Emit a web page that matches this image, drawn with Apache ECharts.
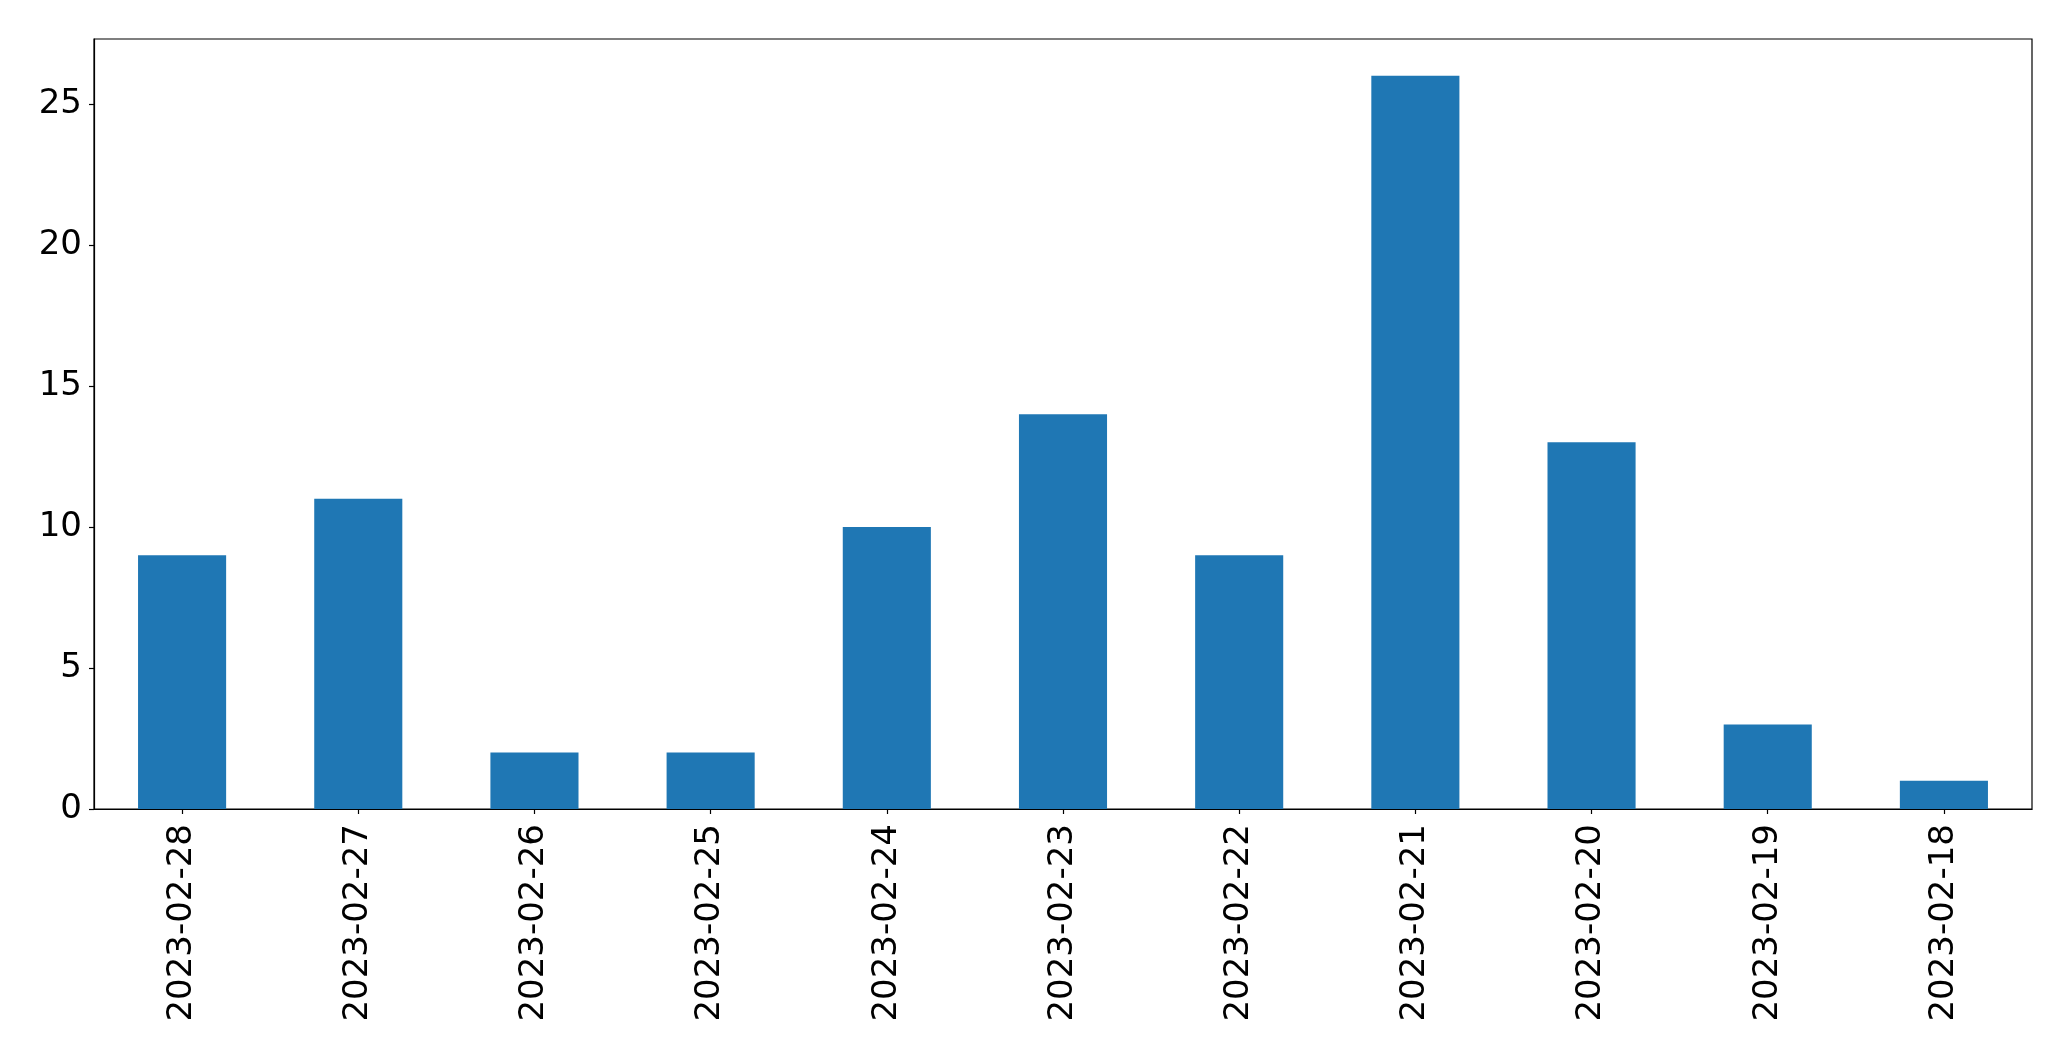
<!DOCTYPE html>
<html>
<head>
<meta charset="utf-8">
<style>html,body{margin:0;padding:0;background:#fff;}#c{width:2071px;height:1061px;}</style>
<script src="https://cdn.jsdelivr.net/npm/echarts@6/dist/echarts.min.js"></script>
</head>
<body>
<div id="c"></div>
<script>
const categories = ["2023-02-28","2023-02-27","2023-02-26","2023-02-25","2023-02-24","2023-02-23","2023-02-22","2023-02-21","2023-02-20","2023-02-19","2023-02-18"];
const values = [9, 11, 2, 2, 10, 14, 9, 26, 13, 3, 1];
const yTicks = [0, 5, 10, 15, 20, 25];

const chart = echarts.init(document.getElementById('c'), null, {renderer: 'canvas'});
const font = 'DejaVu Sans';
chart.setOption({
  animation: false,
  backgroundColor: '#ffffff',
  grid: {left: 94, top: 39, right: 39, bottom: 252, show: true, borderColor: '#000', borderWidth: 1.2, backgroundColor: 'transparent'},
  xAxis: {
    type: 'category',
    data: categories,
    boundaryGap: true,
    axisLine: {show: true, lineStyle: {color: '#000', width: 1.2}},
    axisTick: {show: true, alignWithLabel: true, length: 5, lineStyle: {color: '#000', width: 1.2}},
    axisLabel: {rotate: 90, margin: 15, color: '#000', fontFamily: font, fontSize: 34, interval: 0},
    splitLine: {show: false}
  },
  yAxis: {
    type: 'value',
    min: 0,
    max: 27.3,
    interval: 5,
    axisLine: {show: true, lineStyle: {color: '#000', width: 1.2}},
    axisTick: {show: true, length: 5, lineStyle: {color: '#000', width: 1.2}},
    axisLabel: {margin: 12, color: '#000', fontFamily: font, fontSize: 34, showMaxLabel: false,
      formatter: v => yTicks.includes(v) ? String(v) : ''},
    splitLine: {show: false}
  },
  series: [{
    type: 'bar',
    data: values,
    barWidth: '50%',
    itemStyle: {color: '#1f77b4'}
  }]
});
</script>
</body>
</html>
